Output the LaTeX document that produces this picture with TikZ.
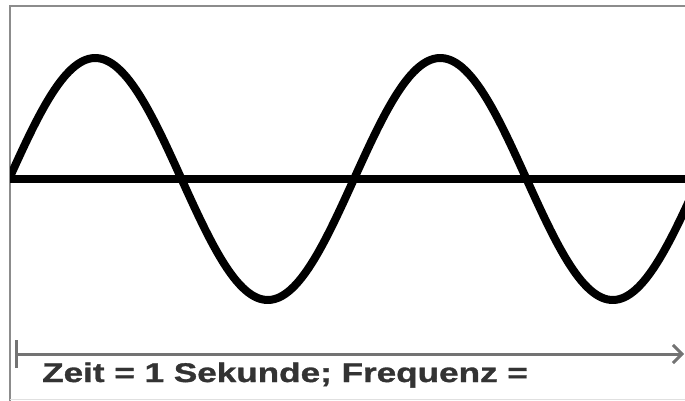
\documentclass[tikz,border=0pt]{standalone}
\usepackage{fontspec}
\setmainfont{Liberation Sans}
\newfontfamily\labelfont[FakeStretch=1.3, FakeBold=1.2]{Liberation Sans}
\usepackage{tikz}
\usepackage{xcolor}
\usetikzlibrary{arrows.meta}
\colorlet{framecol}{black!45}
\colorlet{axiscol}{black!55}
\colorlet{textcol}{black!80}

\begin{document}
\begin{tikzpicture}[x=1pt, y=-1pt,
    wave/.style={line width=8pt, black},
    timeline/.style={axiscol, line width=3pt, {Bar[width=28pt,line width=3pt]}-{Straight Barb[length=9pt,width=18pt,line width=3pt]}},
    every node/.style={font=\labelfont\bfseries\fontsize{27}{30}\selectfont}]
  \useasboundingbox (0,0) rectangle (685,401);
  % frame
  \draw[framecol, line width=2.5pt] (10,401) -- (10,6) -- (685,6);
  \draw[black!12, line width=1pt] (10,399.5) -- (685,399.5);
  % sine and zero line
  \coordinate (z0) at (10,179);
  \coordinate (z1) at (685,179);
  \draw[wave] (z0) -- (z1);
  \begin{scope}
    \clip (10,0) rectangle (685,401);
    \draw[wave, line join=round] plot[domain=9:690, samples=240, smooth]
      (\x, {179 - 121*sin((\x-9)/172.5*180)});
  \end{scope}
  % time axis
  \coordinate (t0) at (15,354);
  \coordinate (t1) at (684,354);
  \draw[timeline] (t0) -- (t1);
  \node[textcol, anchor=base west, inner sep=0pt] (zeit) at (42,382) {Zeit = 1 Sekunde; Frequenz =};
\end{tikzpicture}
\end{document}
